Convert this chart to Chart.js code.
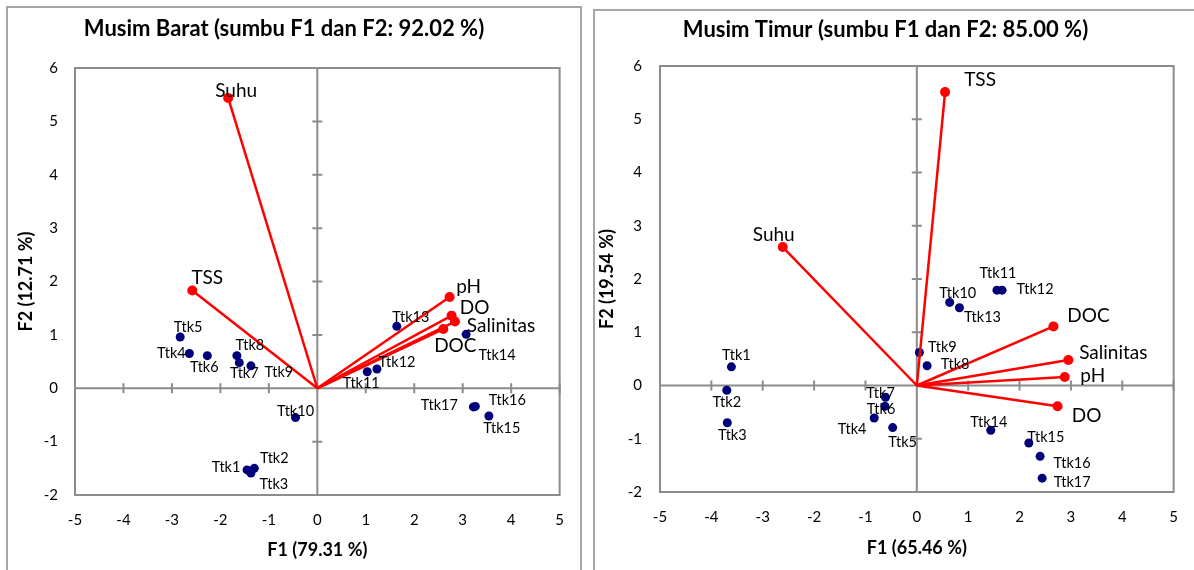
<!DOCTYPE html>
<html lang="id">
<head>
<meta charset="UTF-8">
<title>Biplot Musim Barat dan Musim Timur</title>
<script src="https://cdn.jsdelivr.net/npm/chart.js"></script>
<style>
    body {
        margin: 0;
        background: #fff;
        font-family: Lato, sans-serif;
    }
    .panel {
        position: absolute;
        border: 2px solid #a6a6a6;
        background: #fff;
    }
    #panelBarat {
        left: 6px;
        top: 6px;
        width: 572px;
        height: 580px;
    }
    #panelTimur {
        left: 593px;
        top: 9px;
        width: 620px;
        height: 580px;
    }
</style>
</head>
<body>
<div class="panel" id="panelBarat"><canvas id="chartBarat" width="572" height="562"></canvas></div>
<div class="panel" id="panelTimur"><canvas id="chartTimur" width="599" height="559"></canvas></div>

<script>
// ---- data: Musim Barat ----
const baratVarNames = ['Suhu', 'TSS', 'pH', 'DO', 'Salinitas', 'DOC'];
const baratVarF1 = [-1.84, -2.58, 2.73, 2.77, 2.84, 2.60];
const baratVarF2 = [5.44, 1.83, 1.71, 1.36, 1.25, 1.11];

const baratObsNames = ['Ttk1', 'Ttk2', 'Ttk3', 'Ttk4', 'Ttk5', 'Ttk6', 'Ttk7', 'Ttk8', 'Ttk9',
    'Ttk10', 'Ttk11', 'Ttk12', 'Ttk13', 'Ttk14', 'Ttk15', 'Ttk16', 'Ttk17'];
const baratObsF1 = [-1.45, -1.30, -1.37, -2.64, -2.83, -2.27, -1.61, -1.66, -1.37,
    -0.45, 1.03, 1.23, 1.64, 3.07, 3.54, 3.26, 3.22];
const baratObsF2 = [-1.53, -1.50, -1.59, 0.65, 0.96, 0.61, 0.48, 0.61, 0.42,
    -0.55, 0.31, 0.36, 1.16, 1.01, -0.52, -0.34, -0.35];

// ---- data: Musim Timur ----
const timurVarNames = ['TSS', 'Suhu', 'DOC', 'Salinitas', 'pH', 'DO'];
const timurVarF1 = [0.55, -2.61, 2.66, 2.95, 2.88, 2.74];
const timurVarF2 = [5.51, 2.60, 1.11, 0.48, 0.16, -0.39];

const timurObsNames = ['Ttk1', 'Ttk2', 'Ttk3', 'Ttk4', 'Ttk5', 'Ttk6', 'Ttk7', 'Ttk8', 'Ttk9',
    'Ttk10', 'Ttk11', 'Ttk12', 'Ttk13', 'Ttk14', 'Ttk15', 'Ttk16', 'Ttk17'];
const timurObsF1 = [-3.61, -3.70, -3.69, -0.83, -0.47, -0.62, -0.61, 0.20, 0.05,
    0.64, 1.56, 1.66, 0.83, 1.44, 2.18, 2.40, 2.44];
const timurObsF2 = [0.35, -0.09, -0.70, -0.61, -0.79, -0.39, -0.22, 0.37, 0.62,
    1.56, 1.79, 1.79, 1.46, -0.84, -1.08, -1.33, -1.74];

// axis ranges / tick labels
const xMin = -5, xMax = 5;
const yMin = -2, yMax = 6;

// label placement (pixel offsets from the marker)
const baratVarLabelOffset = [[8, -7], [15, -13], [19, -10], [23, -8], [46, 4], [12, 17]];
const baratObsLabelOffset = [[-21, -3], [20, -10], [23, 11], [-18, 0], [8, -10], [-3, 12], [5, 11],
    [13, -10], [28, 6], [0, -6], [-6, 12], [20, -7], [14, -9], [31, 21], [13, 12], [32, -6], [-34, -2]];
const timurVarLabelOffset = [[35, -12], [-9, -12], [35, -11], [45, -7], [28, -1], [29, 10]];
const timurObsLabelOffset = [[5, -12], [0, 12], [5, 13], [-22, 11], [10, 15], [-4, 3], [-5, -4],
    [28, -1], [23, -5], [8, -9], [1, -17], [33, -1], [23, 10], [-2, -8], [17, -6], [32, 7], [30, 4]];

const RED = '#ff0000';
const NAVY = '#00007a';
const AXIS_GREY = '#8c8c8c';
const FONT = 'Lato, sans-serif';

// frame, zero axes with cross ticks, text labels
const biplotDecor = {
    id: 'biplotDecor',
    beforeDatasetsDraw(chart) {
        const { ctx, chartArea: a, scales: { x, y } } = chart;
        const x0 = x.getPixelForValue(0);
        const y0 = y.getPixelForValue(0);
        ctx.save();
        ctx.strokeStyle = AXIS_GREY;
        ctx.lineWidth = 2;
        ctx.strokeRect(a.left, a.top, a.right - a.left, a.bottom - a.top);
        ctx.beginPath();
        ctx.moveTo(a.left, y0); ctx.lineTo(a.right, y0);
        ctx.moveTo(x0, a.top); ctx.lineTo(x0, a.bottom);
        x.ticks.forEach(t => {
            const px = x.getPixelForValue(t.value);
            ctx.moveTo(px, y0 - 5); ctx.lineTo(px, y0 + 5);
        });
        y.ticks.forEach(t => {
            const py = y.getPixelForValue(t.value);
            ctx.moveTo(x0 - 5, py); ctx.lineTo(x0 + 5, py);
        });
        ctx.stroke();
        ctx.restore();
    },
    afterDatasetsDraw(chart, args, opts) {
        const { ctx, scales: { x, y } } = chart;
        ctx.save();
        ctx.fillStyle = '#000';
        ctx.textAlign = 'center';
        ctx.textBaseline = 'middle';
        opts.groups.forEach(g => {
            ctx.font = g.font;
            g.names.forEach((name, i) => {
                const px = x.getPixelForValue(g.f1[i]) + g.offsets[i][0];
                const py = y.getPixelForValue(g.f2[i]) + g.offsets[i][1];
                ctx.fillText(name, px, py);
            });
        });
        ctx.restore();
    }
};

function makeBiplot(canvasId, opt) {
    const datasets = [];
    opt.varF1.forEach((v, i) => {
        datasets.push({
            data: [{ x: 0, y: 0 }, { x: opt.varF1[i], y: opt.varF2[i] }],
            showLine: true,
            borderColor: RED,
            borderWidth: 2.5,
            pointRadius: [0, 5],
            pointBackgroundColor: RED,
            pointBorderWidth: 0
        });
    });
    datasets.push({
        data: opt.obsF1.map((v, i) => ({ x: v, y: opt.obsF2[i] })),
        showLine: false,
        pointRadius: 4.5,
        pointBackgroundColor: NAVY,
        pointBorderWidth: 0
    });

    return new Chart(document.getElementById(canvasId), {
        type: 'scatter',
        data: { datasets },
        options: {
            responsive: false,
            animation: false,
            layout: { padding: { left: 0, right: opt.padRight, top: 0, bottom: 0 } },
            plugins: {
                legend: { display: false },
                tooltip: { enabled: false },
                title: {
                    display: true,
                    text: opt.title,
                    color: '#000',
                    font: { family: FONT, size: 22, weight: 'bold', lineHeight: 1.2 },
                    padding: { top: opt.titleTop, bottom: opt.titleBottom }
                },
                biplotDecor: {
                    groups: [
                        { names: opt.varNames, f1: opt.varF1, f2: opt.varF2, offsets: opt.varOffsets, font: '19px ' + FONT },
                        { names: opt.obsNames, f1: opt.obsF1, f2: opt.obsF2, offsets: opt.obsOffsets, font: '14.5px ' + FONT }
                    ]
                }
            },
            scales: {
                x: {
                    type: 'linear',
                    min: xMin, max: xMax,
                    grid: { display: false, drawTicks: false },
                    border: { display: false },
                    ticks: { stepSize: 1, color: '#000', padding: 16, font: { family: FONT, size: 15 } },
                    title: {
                        display: true, text: opt.xTitle, color: '#000',
                        font: { family: FONT, size: 18, weight: 'bold', lineHeight: 1.2 },
                        padding: { top: 0, bottom: opt.xTitlePad }
                    },
                    afterFit(scale) { scale.height = opt.xAxisHeight; }
                },
                y: {
                    type: 'linear',
                    min: yMin, max: yMax,
                    grid: { display: false, drawTicks: false },
                    border: { display: false },
                    ticks: { stepSize: 1, color: '#000', padding: opt.yTickPad, font: { family: FONT, size: 15 } },
                    title: {
                        display: true, text: opt.yTitle, color: '#000',
                        font: { family: FONT, size: 18, weight: 'bold', lineHeight: 1.2 },
                        padding: { top: opt.yTitlePad, bottom: 0 }
                    },
                    afterFit(scale) { scale.width = opt.yAxisWidth; }
                }
            }
        },
        plugins: [biplotDecor]
    });
}

makeBiplot('chartBarat', {
    title: 'Musim Barat (sumbu F1 dan F2: 92.02 %)',
    xTitle: 'F1 (79.31 %)',
    yTitle: 'F2 (12.71 %)',
    varNames: baratVarNames, varF1: baratVarF1, varF2: baratVarF2, varOffsets: baratVarLabelOffset,
    obsNames: baratObsNames, obsF1: baratObsF1, obsF2: baratObsF2, obsOffsets: baratObsLabelOffset,
    padRight: 20, titleTop: 7.8, titleBottom: 25.8,
    xAxisHeight: 75, xTitlePad: 9.2, yAxisWidth: 67, yTitlePad: 7, yTickPad: 17
});

makeBiplot('chartTimur', {
    title: 'Musim Timur (sumbu F1 dan F2: 85.00 %)',
    xTitle: 'F1 (65.46 %)',
    yTitle: 'F2 (19.54 %)',
    varNames: timurVarNames, varF1: timurVarF1, varF2: timurVarF2, varOffsets: timurVarLabelOffset,
    obsNames: timurObsNames, obsF1: timurObsF1, obsF2: timurObsF2, obsOffsets: timurObsLabelOffset,
    padRight: 18, titleTop: 5.8, titleBottom: 22.8,
    xAxisHeight: 78, xTitlePad: 11.2, yAxisWidth: 65, yTitlePad: 1.2, yTickPad: 18
});
</script>
</body>
</html>
